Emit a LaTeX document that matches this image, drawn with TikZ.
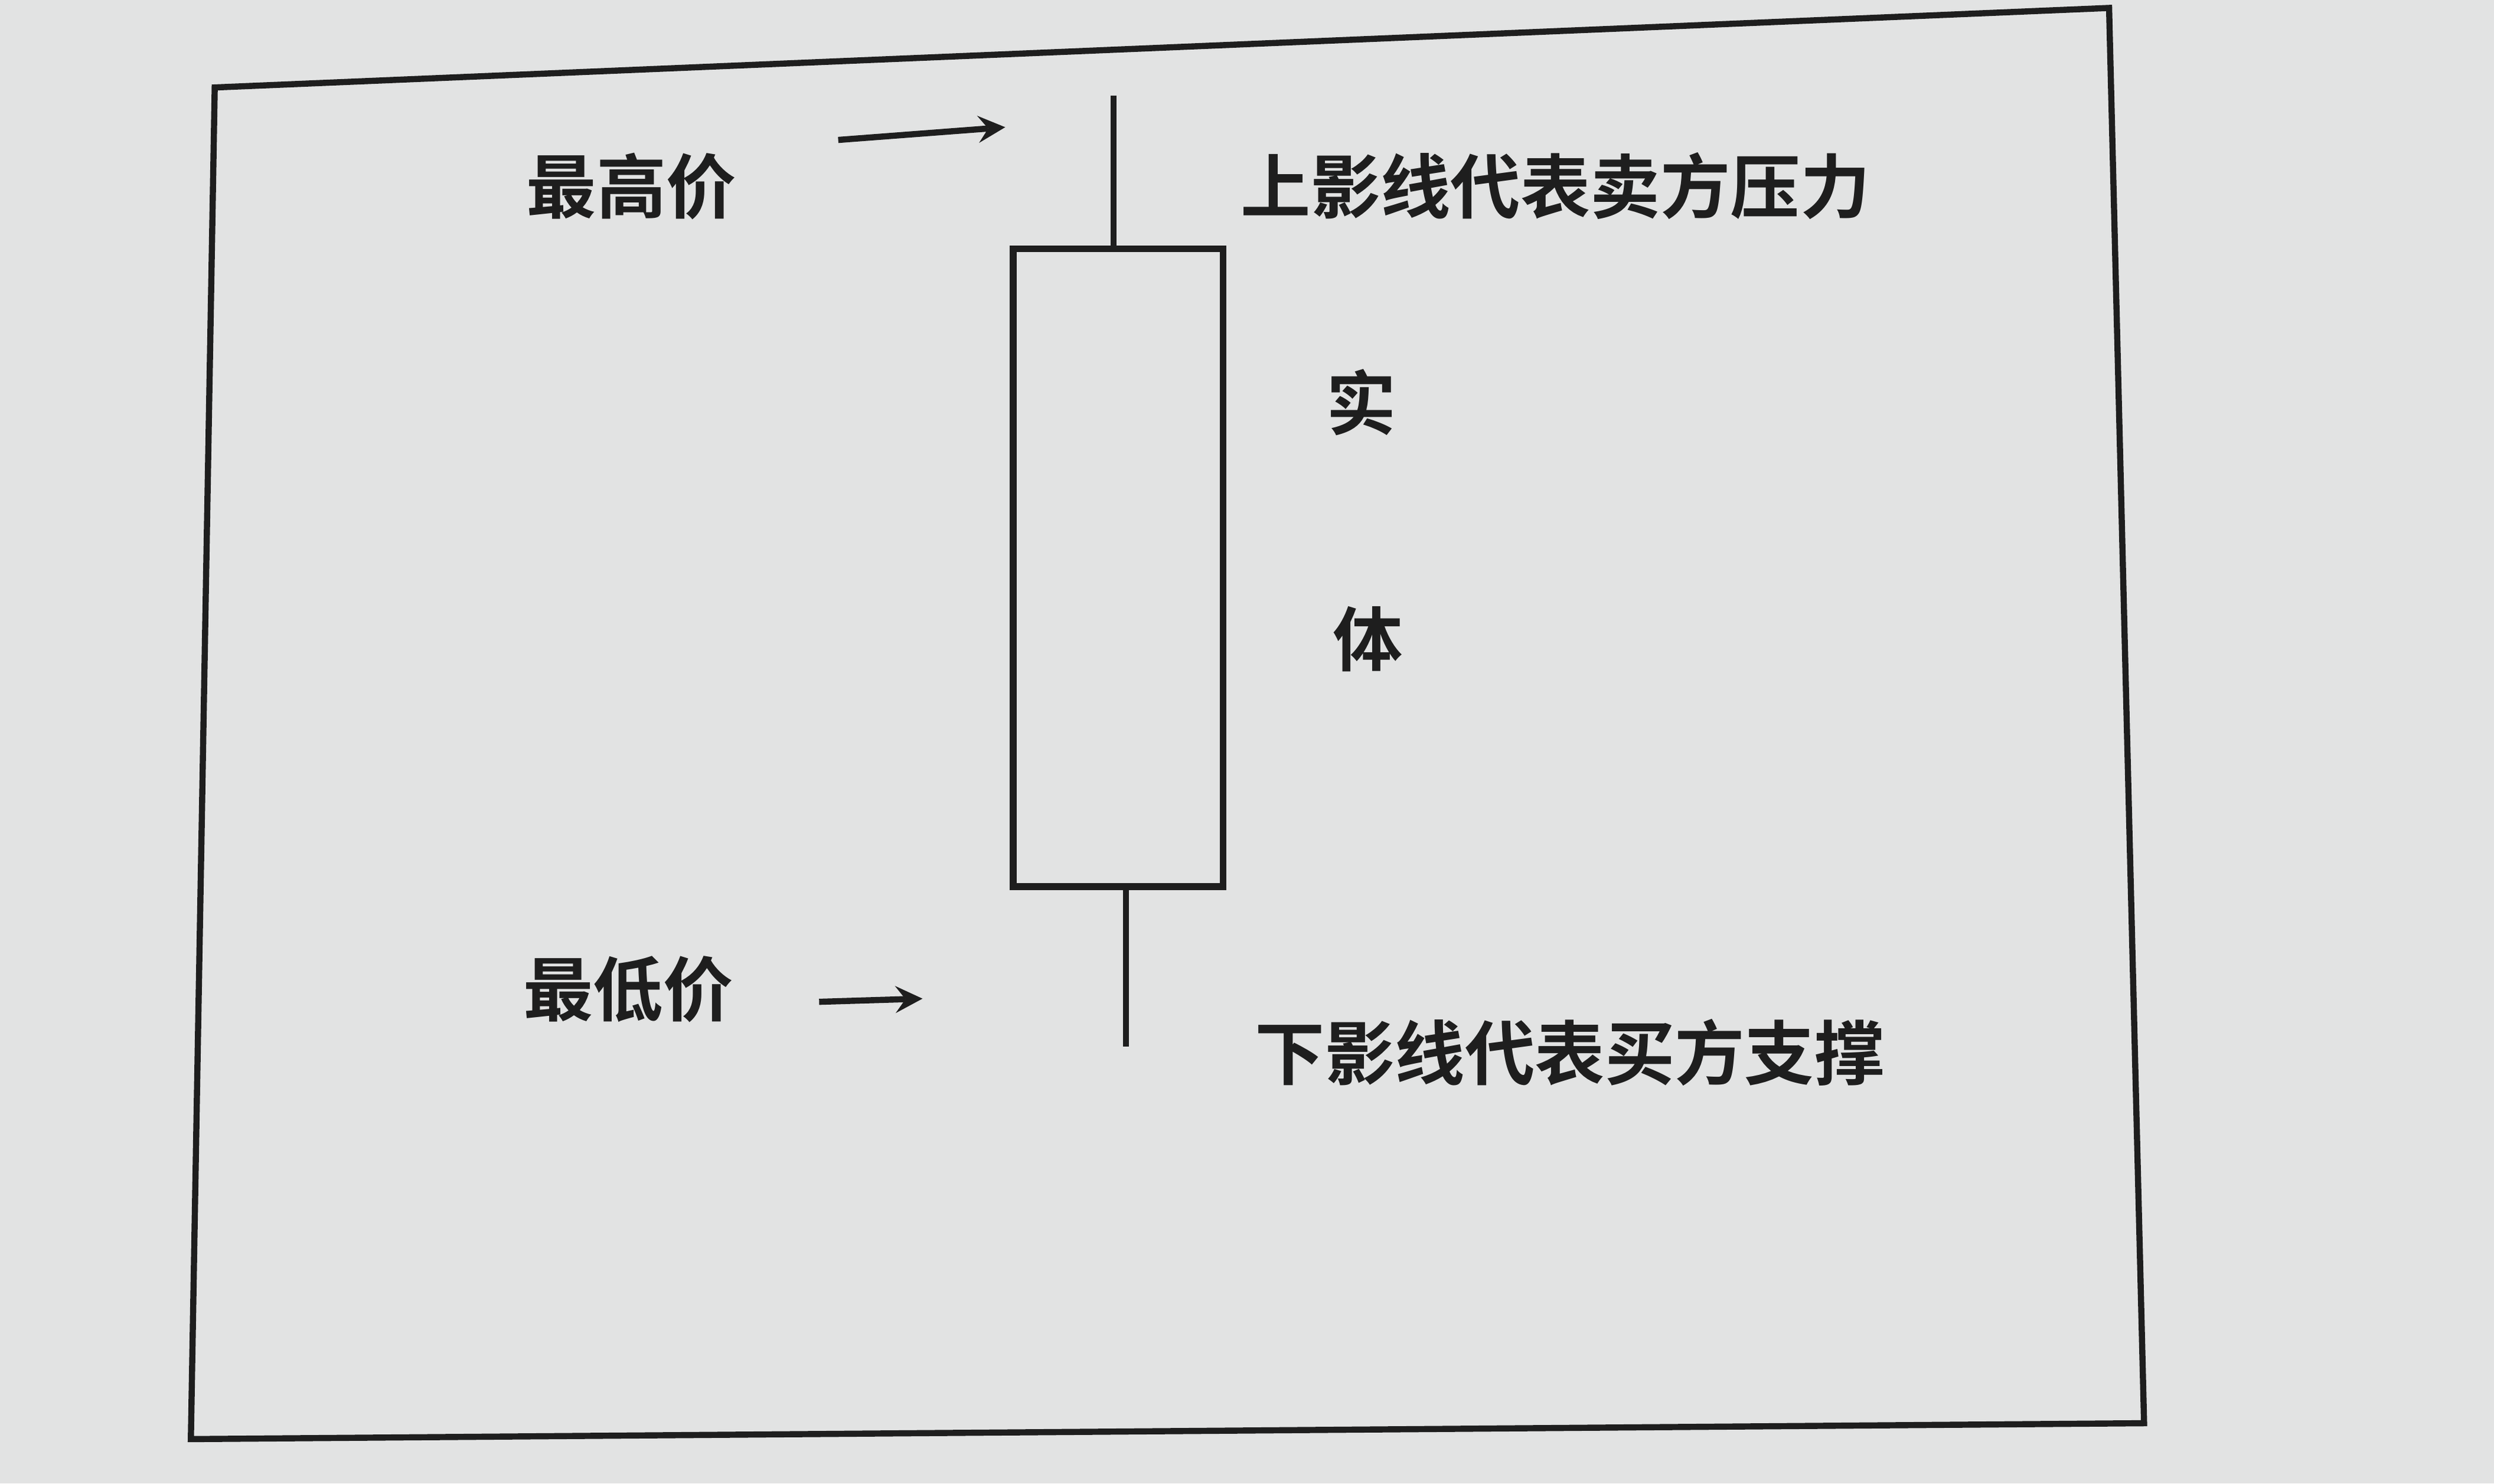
\documentclass[tikz,border=0pt]{standalone}
\usepackage{fontspec}
\newfontfamily\cjk{Noto Sans CJK SC Bold}
\definecolor{paper}{HTML}{E2E3E3}
\definecolor{ink}{HTML}{1E1E1E}
\begin{document}
\begin{tikzpicture}[x=0.01cm,y=-0.01cm,
  lbl/.style={font=\cjk\fontsize{12.5}{13}\selectfont,text=ink,inner sep=0},
  ln/.style={draw=ink,line width=1.1pt},
  arr/.style={ln,-stealth}]
\fill[paper] (0,0) rectangle (1568,933);
\useasboundingbox (0,0) rectangle (1568,933);
\draw[ln] (135,55) -- (1326,5) -- (1348,895) -- (120,905) -- cycle;
\node[draw=ink,line width=1.2pt,minimum width=1.32cm,minimum height=4.01cm,inner sep=0] (body) at (703,357) {};
\coordinate (hi) at (700,60);
\coordinate (lo) at (708,658);
\draw[ln] (hi) -- (body.north -| hi);
\draw[ln] (body.south -| lo) -- (lo);
\node[lbl] (max) at (397,117) {最高价};
\node[lbl] (min) at (395,622) {最低价};
\node[lbl] (up) at (978,117) {上影线代表卖方压力};
\node[lbl] (dn) at (987,662) {下影线代表买方支撑};
\node[lbl] (shi) at (856,253) {实};
\node[lbl] (ti) at (860,402) {体};
\coordinate (a1s) at (527,88); \coordinate (a1e) at (632,80);
\coordinate (a2s) at (515,630); \coordinate (a2e) at (580,628);
\draw[arr] (a1s) -- (a1e);
\draw[arr] (a2s) -- (a2e);
\end{tikzpicture}
\end{document}
